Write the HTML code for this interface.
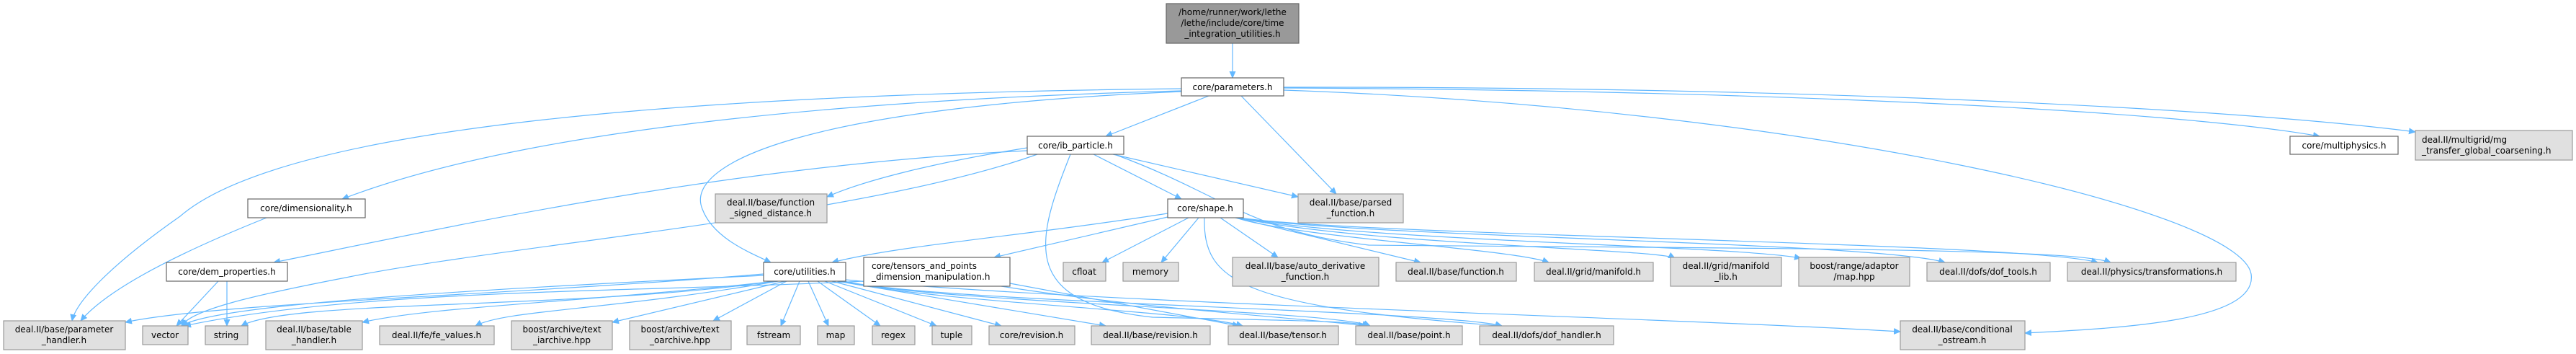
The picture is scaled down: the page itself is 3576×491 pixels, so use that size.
<!DOCTYPE html>
<html><head><meta charset="utf-8">
<style>
html,body{margin:0;padding:0;background:#fff;}
svg{display:block;}
text{font-family:"DejaVu Sans","Liberation Sans",sans-serif;font-size:12px;fill:#000;}
.e{fill:none;stroke:#63b8ff;stroke-width:1.2;}
.g{fill:#e0e0e0;stroke:#999;stroke-width:1.2;}
.w{fill:#fff;stroke:#666;stroke-width:1.2;}
.r{fill:#999;stroke:#666;stroke-width:1.2;}
</style></head><body>
<svg width="3576" height="491" viewBox="0 0 3576 491" xmlns="http://www.w3.org/2000/svg">
<defs>
<marker id="a" markerWidth="10" markerHeight="10" refX="9" refY="5" orient="auto" markerUnits="userSpaceOnUse">
<path d="M0,0.5 L10,5 L0,9.5 z" fill="#63b8ff"/>
</marker>
</defs>
<g marker-end="url(#a)">
<path class="e" d="M1711 60 L1711 108"/>
<path class="e" d="M1678 133 L1535 189"/>
<path class="e" d="M1723 133 L1855 269"/>
<path class="e" d="M1640 127 C1100 150, 950 230, 975 290 C990 330, 1040 350, 1070 364"/>
<path class="e" d="M1640 126 C1100 140, 700 190, 475 276"/>
<path class="e" d="M1640 123 C1000 130, 400 170, 250 300 C150 370, 105 420, 100 445"/>
<path class="e" d="M1782 122 C2400 125, 3000 150, 3220 189"/>
<path class="e" d="M1782 121 C2500 120, 3100 150, 3353 183"/>
<path class="e" d="M1782 125 C2500 150, 3110 290, 3125 380 C3135 445, 2950 455, 2811 462"/>
<path class="e" d="M1426 209 C1000 230, 600 320, 380 364"/>
<path class="e" d="M1426 205 C1300 225, 1200 250, 1148 273"/>
<path class="e" d="M1440 214 C1200 300, 700 340, 480 385 C350 410, 265 430, 252 452"/>
<path class="e" d="M1518 214 L1640 276"/>
<path class="e" d="M1545 214 L1802 273"/>
<path class="e" d="M1547 214 C1700 270, 1730 320, 1900 340 C2500 345, 2880 345, 2930 364"/>
<path class="e" d="M1486 214 C1440 330, 1410 420, 1600 440 C1800 445, 1880 445, 1900 452"/>
<path class="e" d="M1621 296 C1400 330, 1250 340, 1155 364"/>
<path class="e" d="M1621 301 L1380 357"/>
<path class="e" d="M1650 302 L1530 364"/>
<path class="e" d="M1664 302 L1612 364"/>
<path class="e" d="M1694 302 L1774 357"/>
<path class="e" d="M1715 302 L1972 364"/>
<path class="e" d="M1716 302 C1800 330, 2100 345, 2150 364"/>
<path class="e" d="M1718 302 C1900 340, 2300 345, 2325 358"/>
<path class="e" d="M1719 302 C1900 335, 2400 340, 2500 358"/>
<path class="e" d="M1719 302 C1900 330, 2600 335, 2700 364"/>
<path class="e" d="M1720 302 C1900 328, 2800 335, 2912 364"/>
<path class="e" d="M1672 302 C1670 390, 1720 425, 2085 452"/>
<path class="e" d="M1060 380 C700 410, 300 420, 174 447"/>
<path class="e" d="M1060 382 C700 400, 300 420, 252 452"/>
<path class="e" d="M1075 390 C800 430, 400 415, 335 452"/>
<path class="e" d="M1078 390 C800 420, 600 425, 503 447"/>
<path class="e" d="M1080 390 C850 430, 700 430, 660 452"/>
<path class="e" d="M1090 390 L850 447"/>
<path class="e" d="M1092 390 L990 445"/>
<path class="e" d="M1110 390 L1084 452"/>
<path class="e" d="M1122 390 L1150 452"/>
<path class="e" d="M1135 390 L1222 452"/>
<path class="e" d="M1145 390 L1300 452"/>
<path class="e" d="M1155 390 L1390 452"/>
<path class="e" d="M1162 390 L1535 452"/>
<path class="e" d="M1168 390 C1300 420, 1650 430, 1725 452"/>
<path class="e" d="M1170 390 C1300 420, 1850 430, 1902 452"/>
<path class="e" d="M1172 390 C1300 420, 2000 430, 2085 452"/>
<path class="e" d="M1174 388 C1500 420, 2300 440, 2638 460"/>
<path class="e" d="M1402 393 L1720 452"/>
<path class="e" d="M1390 397 C1600 430, 1800 440, 1895 452"/>
<path class="e" d="M1199 390 C900 405, 500 400, 256 452"/>
<path class="e" d="M370 302 C250 350, 150 400, 112 445"/>
<path class="e" d="M303 390 L245 452"/>
<path class="e" d="M315 390 L315 452"/>
</g>
<rect class="r" x="1619" y="5" width="184" height="55"/>
<text x="1711" y="21" text-anchor="middle">/home/runner/work/lethe</text>
<text x="1711" y="36" text-anchor="middle">/lethe/include/core/time</text>
<text x="1711" y="51" text-anchor="middle">_integration_utilities.h</text>

<rect class="w" x="1640" y="108" width="142" height="25"/><text x="1711" y="125" text-anchor="middle">core/parameters.h</text>
<rect class="w" x="1426" y="189" width="134" height="25"/><text x="1493" y="206" text-anchor="middle">core/ib_particle.h</text>
<rect class="w" x="3179" y="189" width="150" height="25"/><text x="3254" y="206" text-anchor="middle">core/multiphysics.h</text>
<rect class="g" x="3353" y="181" width="218" height="41"/><text x="3362" y="198">deal.II/multigrid/mg</text><text x="3362" y="213">_transfer_global_coarsening.h</text>
<rect class="w" x="344" y="276" width="163" height="26"/><text x="425" y="293" text-anchor="middle">core/dimensionality.h</text>
<rect class="g" x="993" y="269" width="155" height="40"/><text x="1070" y="285" text-anchor="middle">deal.II/base/function</text><text x="1070" y="300" text-anchor="middle">_signed_distance.h</text>
<rect class="w" x="1621" y="276" width="105" height="26"/><text x="1673" y="293" text-anchor="middle">core/shape.h</text>
<rect class="g" x="1802" y="269" width="146" height="40"/><text x="1875" y="285" text-anchor="middle">deal.II/base/parsed</text><text x="1875" y="300" text-anchor="middle">_function.h</text>

<rect class="w" x="231" y="364" width="168" height="26"/><text x="315" y="381" text-anchor="middle">core/dem_properties.h</text>
<rect class="w" x="1060" y="364" width="114" height="26"/><text x="1117" y="381" text-anchor="middle">core/utilities.h</text>
<rect class="w" x="1199" y="357" width="203" height="40"/><text x="1210" y="373">core/tensors_and_points</text><text x="1210" y="388">_dimension_manipulation.h</text>
<rect class="g" x="1476" y="364" width="59" height="26"/><text x="1505" y="381" text-anchor="middle">cfloat</text>
<rect class="g" x="1559" y="364" width="77" height="26"/><text x="1597" y="381" text-anchor="middle">memory</text>
<rect class="g" x="1711" y="357" width="203" height="40"/><text x="1812" y="373" text-anchor="middle">deal.II/base/auto_derivative</text><text x="1812" y="388" text-anchor="middle">_function.h</text>
<rect class="g" x="1938" y="364" width="167" height="26"/><text x="2021" y="381" text-anchor="middle">deal.II/base/function.h</text>
<rect class="g" x="2130" y="364" width="165" height="26"/><text x="2212" y="381" text-anchor="middle">deal.II/grid/manifold.h</text>
<rect class="g" x="2319" y="357" width="154" height="40"/><text x="2396" y="373" text-anchor="middle">deal.II/grid/manifold</text><text x="2396" y="388" text-anchor="middle">_lib.h</text>
<rect class="g" x="2497" y="357" width="154" height="40"/><text x="2574" y="373" text-anchor="middle">boost/range/adaptor</text><text x="2574" y="388" text-anchor="middle">/map.hpp</text>
<rect class="g" x="2675" y="364" width="171" height="26"/><text x="2760" y="381" text-anchor="middle">deal.II/dofs/dof_tools.h</text>
<rect class="g" x="2870" y="364" width="234" height="26"/><text x="2987" y="381" text-anchor="middle">deal.II/physics/transformations.h</text>

<rect class="g" x="5" y="445" width="169" height="40"/><text x="89" y="461" text-anchor="middle">deal.II/base/parameter</text><text x="89" y="476" text-anchor="middle">_handler.h</text>
<rect class="g" x="198" y="452" width="63" height="26"/><text x="229" y="469" text-anchor="middle">vector</text>
<rect class="g" x="285" y="452" width="59" height="26"/><text x="314" y="469" text-anchor="middle">string</text>
<rect class="g" x="369" y="445" width="134" height="40"/><text x="436" y="461" text-anchor="middle">deal.II/base/table</text><text x="436" y="476" text-anchor="middle">_handler.h</text>
<rect class="g" x="527" y="452" width="159" height="26"/><text x="606" y="469" text-anchor="middle">deal.II/fe/fe_values.h</text>
<rect class="g" x="710" y="445" width="140" height="40"/><text x="780" y="461" text-anchor="middle">boost/archive/text</text><text x="780" y="476" text-anchor="middle">_iarchive.hpp</text>
<rect class="g" x="874" y="445" width="141" height="40"/><text x="944" y="461" text-anchor="middle">boost/archive/text</text><text x="944" y="476" text-anchor="middle">_oarchive.hpp</text>
<rect class="g" x="1037" y="452" width="74" height="26"/><text x="1074" y="469" text-anchor="middle">fstream</text>
<rect class="g" x="1135" y="452" width="51" height="26"/><text x="1160" y="469" text-anchor="middle">map</text>
<rect class="g" x="1211" y="452" width="59" height="26"/><text x="1240" y="469" text-anchor="middle">regex</text>
<rect class="g" x="1294" y="452" width="55" height="26"/><text x="1321" y="469" text-anchor="middle">tuple</text>
<rect class="g" x="1373" y="452" width="119" height="26"/><text x="1432" y="469" text-anchor="middle">core/revision.h</text>
<rect class="g" x="1515" y="452" width="165" height="26"/><text x="1597" y="469" text-anchor="middle">deal.II/base/revision.h</text>
<rect class="g" x="1705" y="452" width="153" height="26"/><text x="1781" y="469" text-anchor="middle">deal.II/base/tensor.h</text>
<rect class="g" x="1882" y="452" width="148" height="26"/><text x="1956" y="469" text-anchor="middle">deal.II/base/point.h</text>
<rect class="g" x="2054" y="452" width="186" height="26"/><text x="2147" y="469" text-anchor="middle">deal.II/dofs/dof_handler.h</text>
<rect class="g" x="2638" y="445" width="173" height="40"/><text x="2724" y="461" text-anchor="middle">deal.II/base/conditional</text><text x="2724" y="476" text-anchor="middle">_ostream.h</text>
</svg>
</body></html>
